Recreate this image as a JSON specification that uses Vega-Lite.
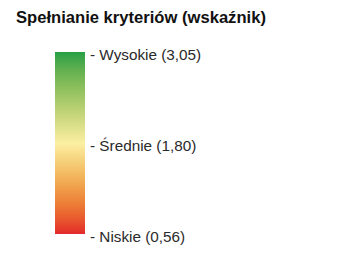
{
  "$schema": "https://vega.github.io/schema/vega-lite/v6.json",
  "width": 341,
  "height": 226,
  "autosize": "none",
  "padding": {"left": 0, "top": 30, "right": 0, "bottom": 0},
  "background": "white",
  "view": {"stroke": null},
  "title": {
    "text": "Spełnianie kryteriów (wskaźnik)",
    "anchor": "start",
    "frame": "group",
    "dx": 16,
    "offset": 3,
    "font": "Liberation Sans",
    "fontSize": 16.6,
    "fontWeight": "bold",
    "color": "#111111"
  },
  "data": {
    "values": [
      {"poziom": "Niskie", "wskaznik": 0.56},
      {"poziom": "Średnie", "wskaznik": 1.8},
      {"poziom": "Wysokie", "wskaznik": 3.05}
    ]
  },
  "mark": {"type": "point", "size": 0, "filled": true, "opacity": 1},
  "encoding": {
    "color": {
      "field": "wskaznik",
      "type": "quantitative",
      "scale": {
        "domain": [0.56, 1.8, 3.05],
        "range": ["#e3272b", "#fcefa2", "#23a047"]
      },
      "legend": {
        "orient": "none",
        "legendX": 55,
        "legendY": 22,
        "title": null,
        "direction": "vertical",
        "gradientLength": 182,
        "gradientThickness": 30,
        "gradientStrokeWidth": 0,
        "gradientOpacity": 1,
        "values": [0.56, 1.8, 3.05],
        "labelExpr": "(datum.value > 2.5 ? '- Wysokie (' : datum.value > 1 ? '- Średnie (' : '- Niskie (') + replace(format(datum.value, '.2f'), '.', ',') + ')'",
        "labelFont": "Liberation Sans",
        "labelFontSize": 15.3,
        "labelColor": "#2a2a2a",
        "labelOffset": 5,
        "labelBaseline": "middle",
        "labelOverlap": false,
        "labelLimit": 300,
        "encode": {"labels": {"update": {"dy": {"value": 3}, "baseline": {"value": "middle"}}}}
      }
    }
  }
}
